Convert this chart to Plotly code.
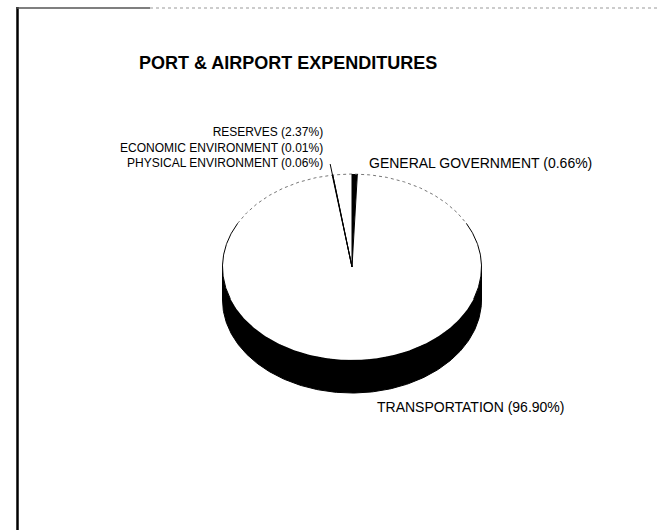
import numpy as np
import plotly.graph_objects as go

# ---------------- data ----------------
categories = ["GENERAL GOVERNMENT", "TRANSPORTATION", "PHYSICAL ENVIRONMENT",
              "ECONOMIC ENVIRONMENT", "RESERVES"]
values = [0.66, 96.90, 0.06, 0.01, 2.37]
title_text = "PORT & AIRPORT EXPENDITURES"

# ---------------- styles / geometry ----------------
top_colors = ["black", "white", "white", "white", "white"]
side_colors = ["black", "black", "black", "black", "black"]
CX, CY = 352.0, 267.0      # centre of top face (pixel-like units)
RX, RY = 129.5, 93.0       # ellipse radii
DEPTH = 33.0               # pie thickness
FONT = "Liberation Sans, Arial, Helvetica, sans-serif"

# label placement for the big labels: (x, y, xanchor)
label_pos = {
    "GENERAL GOVERNMENT": (367, 163, "left"),
    "TRANSPORTATION": (375, 407, "left"),
}
# the three small slices share one stacked label block (top-left)
stack_order = ["RESERVES", "ECONOMIC ENVIRONMENT", "PHYSICAL ENVIRONMENT"]
stack_pos = (325, 147)


def pt(theta_deg, r=1.0, dy=0.0):
    t = np.radians(theta_deg)
    return CX + RX * r * np.sin(t), CY - RY * r * np.cos(t) + dy


total = float(sum(values))
bounds = np.concatenate([[0.0], np.cumsum(values) / total * 360.0])

fig = go.Figure()

# --- sides (visible front half: 90..270 degrees clockwise from top)
for i, cat in enumerate(categories):
    a0, a1 = max(bounds[i], 90.0), min(bounds[i + 1], 270.0)
    if a1 <= a0:
        continue
    th = np.linspace(a0, a1, 200)
    xt, yt = pt(th)
    xb, yb = pt(th[::-1], dy=DEPTH)
    fig.add_trace(go.Scatter(
        x=np.concatenate([xt, xb, xt[:1]]), y=np.concatenate([yt, yb, yt[:1]]),
        mode="lines", fill="toself", fillcolor=side_colors[i],
        line=dict(color="black", width=1), hoverinfo="skip", showlegend=False))

# --- top faces
for i, cat in enumerate(categories):
    th = np.linspace(bounds[i], bounds[i + 1], max(3, int((bounds[i + 1] - bounds[i]) * 2)))
    xs, ys = pt(th)
    fig.add_trace(go.Scatter(
        x=np.concatenate([[CX], xs, [CX]]), y=np.concatenate([[CY], ys, [CY]]),
        mode="lines", fill="toself", fillcolor=top_colors[i],
        line=dict(width=0, color=top_colors[i]), hoverinfo="skip",
        name=cat, showlegend=False))

# --- rim outline: faint dotted at the back, solid at the sides
th_back = np.linspace(-62, 62, 200)
xb_, yb_ = pt(th_back)
fig.add_trace(go.Scatter(x=xb_, y=yb_, mode="lines",
                         line=dict(color="#777777", width=1, dash="dot"),
                         hoverinfo="skip", showlegend=False))
for a_start, a_end in [(62, 110), (250, 298)]:
    th = np.linspace(a_start, a_end, 80)
    xs, ys = pt(th)
    fig.add_trace(go.Scatter(x=xs, y=ys, mode="lines",
                             line=dict(color="black", width=1),
                             hoverinfo="skip", showlegend=False))

# --- radial boundaries between slices
for b in bounds[:-1]:
    xe, ye = pt(b)
    fig.add_trace(go.Scatter(x=[CX, xe], y=[CY, ye], mode="lines",
                             line=dict(color="black", width=1),
                             hoverinfo="skip", showlegend=False))

# --- leader line for the tiny slices at the top-left
mid_small = (bounds[2] + bounds[4]) / 2.0
x0l, y0l = pt(mid_small, r=1.0)
x1l, y1l = pt(mid_small, r=1.12)
fig.add_trace(go.Scatter(x=[x0l, x1l], y=[y0l, y1l], mode="lines",
                         line=dict(color="black", width=1),
                         hoverinfo="skip", showlegend=False))

# --- labels
val_of = dict(zip(categories, values))
annotations = []
for cat in label_pos:
    lx, ly, anchor = label_pos[cat]
    annotations.append(dict(
        x=lx, y=ly, xref="x", yref="y", text=f"{cat} ({val_of[cat]:.2f}%)",
        showarrow=False, xanchor=anchor, yanchor="middle",
        font=dict(family=FONT, size=14, color="black")))
stack_text = "<br>".join(f"{c} ({val_of[c]:.2f}%)" for c in stack_order)
annotations.append(dict(
    x=stack_pos[0], y=stack_pos[1], xref="x", yref="y", text=stack_text,
    showarrow=False, xanchor="right", yanchor="middle", align="right",
    font=dict(family=FONT, size=12, color="black")))
annotations.append(dict(
    x=288, y=63, xref="x", yref="y", text=f"<b>{title_text}</b>",
    showarrow=False, xanchor="center", yanchor="middle",
    font=dict(family=FONT, size=18, color="black")))

shapes = [
    dict(type="line", xref="x", yref="y", x0=17.5, y0=7, x1=17.5, y1=530,
         line=dict(color="black", width=2.5)),
    dict(type="line", xref="x", yref="y", x0=17, y0=8, x1=150, y1=8,
         line=dict(color="#555555", width=1.5)),
    dict(type="line", xref="x", yref="y", x0=150, y0=8, x1=660, y1=8,
         line=dict(color="#999999", width=1, dash="dot")),
]

fig.update_layout(
    width=665, height=530,
    margin=dict(l=0, r=0, t=0, b=0),
    paper_bgcolor="white", plot_bgcolor="white",
    xaxis=dict(range=[0, 665], visible=False, fixedrange=True),
    yaxis=dict(range=[530, 0], visible=False, fixedrange=True),
    annotations=annotations, shapes=shapes, showlegend=False,
)

fig.write_html("out.html", post_script="document.body.style.margin='0';",
               config={"displayModeBar": False})
